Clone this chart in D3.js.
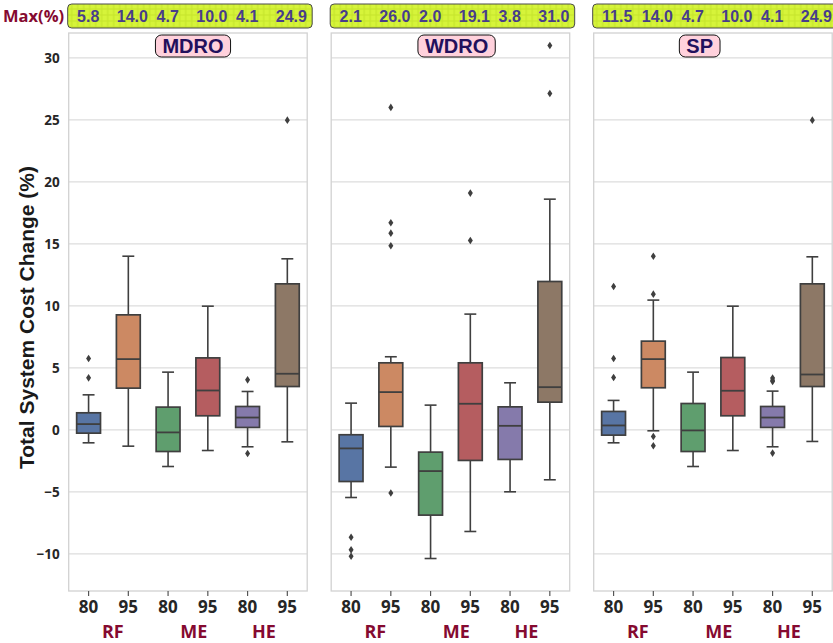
<!DOCTYPE html>
<html>
<head>
<meta charset="utf-8">
<script src="https://cdn.jsdelivr.net/npm/d3@7"></script>
<style>
  html, body { margin: 0; padding: 0; background: #fff; }
  svg { display: block; }
</style>
</head>
<body>
<svg id="chart" width="833" height="643"></svg>
<script>
// ---------------- DATA ----------------
const panels = ["MDRO", "WDRO", "SP"];
const groups = ["RF", "ME", "HE"];
const levels = ["80", "95", "80", "95", "80", "95"];
const categories = ["RF-80", "RF-95", "ME-80", "ME-95", "HE-80", "HE-95"];
const yTicks = [-10, -5, 0, 5, 10, 15, 20, 25, 30];

// Max (%) row per panel
const maxMDRO = [5.8, 14.0, 4.7, 10.0, 4.1, 24.9];
const maxWDRO = [2.1, 26.0, 2.0, 19.1, 3.8, 31.0];
const maxSP   = [11.5, 14.0, 4.7, 10.0, 4.1, 24.9];

// MDRO box statistics
const mdroWhiskerLow  = [-1.05, -1.32, -2.96, -1.67, -1.37, -0.97];
const mdroQ1          = [-0.27, 3.36, -1.75, 1.13, 0.19, 3.49];
const mdroMedian      = [0.46, 5.70, -0.21, 3.17, 0.99, 4.52];
const mdroQ3          = [1.37, 9.27, 1.83, 5.80, 1.88, 11.77];
const mdroWhiskerHigh = [2.82, 14.0, 4.65, 9.97, 3.09, 13.79];
const mdroOutliers    = [[5.75, 4.19], [], [], [], [4.03, -1.91], [24.97]];

// WDRO box statistics
const wdroWhiskerLow  = [-5.46, -3.01, -10.38, -8.20, -5.00, -4.03];
const wdroQ1          = [-4.17, 0.27, -6.88, -2.47, -2.39, 2.23];
const wdroMedian      = [-1.50, 3.04, -3.33, 2.10, 0.32, 3.44];
const wdroQ3          = [-0.40, 5.40, -1.80, 5.40, 1.85, 11.96];
const wdroWhiskerHigh = [2.15, 5.89, 1.99, 9.33, 3.79, 18.60];
const wdroOutliers    = [[-8.66, -9.68, -10.20], [26.0, 16.7, 15.86, 14.84, -5.10], [], [19.09, 15.27], [], [30.99, 27.12]];

// SP box statistics
const spWhiskerLow  = [-1.05, -0.08, -2.96, -1.67, -1.37, -0.94];
const spQ1          = [-0.43, 3.39, -1.75, 1.13, 0.19, 3.49];
const spMedian      = [0.35, 5.70, -0.05, 3.15, 0.99, 4.46];
const spQ3          = [1.48, 7.15, 2.12, 5.83, 1.88, 11.77];
const spWhiskerHigh = [2.37, 10.46, 4.65, 9.97, 3.12, 13.95];
const spOutliers    = [[11.56, 5.75, 4.22], [14.0, 10.94, -0.54, -1.29], [], [], [4.17, 4.0, 3.9, -1.88], [24.97]];

const boxColors = ["#5875a4", "#cc8963", "#5f9e6e", "#b55d60", "#857aab", "#8d7866"];

// ---------------- LAYOUT ----------------
const svg = d3.select("#chart");
const panelWidth = 238.5, panelGap = 24, firstLeft = 68.7;
const plotTop = 33, plotBottom = 591;
const titleOffsets = [124.3, 125.4, 106];
const groupLabelIdx = [0.61, 2.65, 4.41];

const panelData = [
  {name: "MDRO", max: maxMDRO, lo: mdroWhiskerLow, q1: mdroQ1, med: mdroMedian, q3: mdroQ3, hi: mdroWhiskerHigh, out: mdroOutliers},
  {name: "WDRO", max: maxWDRO, lo: wdroWhiskerLow, q1: wdroQ1, med: wdroMedian, q3: wdroQ3, hi: wdroWhiskerHigh, out: wdroOutliers},
  {name: "SP",   max: maxSP,   lo: spWhiskerLow,   q1: spQ1,   med: spMedian,   q3: spQ3,   hi: spWhiskerHigh,   out: spOutliers}
];

const y = d3.scaleLinear().domain([-13, 32]).range([plotBottom, plotTop]);
const x = d3.scaleBand().domain(categories).range([0, panelWidth]).paddingInner(0.4).paddingOuter(0.2);
const idxScale = d3.scaleLinear().domain([0, 5]).range([x(categories[0]) + x.bandwidth() / 2, x(categories[5]) + x.bandwidth() / 2]);

const edge = "#3f3f3f";

// hatch pattern for max row
const defs = svg.append("defs");
const pat = defs.append("pattern").attr("id", "hatch").attr("patternUnits", "userSpaceOnUse")
  .attr("width", 6).attr("height", 6);
pat.append("rect").attr("width", 6).attr("height", 6).attr("fill", "#d6f43a");
pat.append("path").attr("d", "M0,3H6M3,0V6").attr("stroke", "#c6e52c").attr("stroke-width", 1.2);

// Max(%) label
svg.append("text").attr("x", 3).attr("y", 22)
  .attr("font-family", "'Open Sans', sans-serif").attr("font-weight", 700).attr("font-size", 16.5)
  .attr("fill", "#850a30").text("Max(%)");

panelData.forEach((p, pi) => {
  const left = firstLeft + pi * (panelWidth + panelGap);
  const g = svg.append("g").attr("transform", `translate(${left},0)`);

  // Max row box
  g.append("rect").attr("x", -1).attr("y", 4).attr("width", panelWidth + 6).attr("height", 24)
    .attr("rx", 4).attr("fill", "url(#hatch)").attr("stroke", "#4a4a4a").attr("stroke-width", 1);
  g.selectAll("text.maxv").data(p.max).join("text").attr("class", "maxv")
    .attr("x", (d, i) => x(categories[i]) + x.bandwidth() / 2 - 11.5)
    .attr("y", 22)
    .attr("font-family", "'Liberation Sans', Arial, sans-serif").attr("font-weight", 700).attr("font-size", 16)
    .attr("fill", "#483d8b").text(d => d.toFixed(1));

  // grid
  g.selectAll("line.grid").data(yTicks).join("line").attr("class", "grid")
    .attr("x1", 0).attr("x2", panelWidth).attr("y1", d => y(d)).attr("y2", d => y(d))
    .attr("stroke", "#dddddd").attr("stroke-width", 1.3);

  // frame
  g.append("rect").attr("x", 0).attr("y", plotTop).attr("width", panelWidth).attr("height", plotBottom - plotTop)
    .attr("fill", "none").attr("stroke", "#d2d2d2").attr("stroke-width", 1.3);

  // x axis
  const xa = g.append("g").attr("transform", `translate(0,${plotBottom})`)
    .call(d3.axisBottom(x).tickSize(5).tickFormat((d, i) => levels[i]));
  xa.select(".domain").remove();
  xa.selectAll(".tick line").attr("stroke", "#555").attr("stroke-width", 1.2);
  xa.selectAll(".tick text").attr("y", 21.5).attr("dy", null)
    .attr("font-family", "'Open Sans', sans-serif").attr("font-weight", 700).attr("font-size", 17)
    .attr("fill", "#262626");

  // group labels
  g.selectAll("text.grp").data(groups).join("text").attr("class", "grp")
    .attr("x", (d, i) => idxScale(groupLabelIdx[i])).attr("y", 637.5)
    .attr("text-anchor", "middle")
    .attr("font-family", "'Open Sans', sans-serif").attr("font-weight", 700).attr("font-size", 18)
    .attr("fill", "#850a30").text(d => d);

  // y axis labels (first panel only)
  if (pi === 0) {
    const ya = g.append("g").call(d3.axisLeft(y).tickValues(yTicks).tickSize(0).tickPadding(9));
    ya.select(".domain").remove();
    ya.selectAll(".tick text")
      .attr("font-family", "'Open Sans', sans-serif").attr("font-weight", 700).attr("font-size", 13.5)
      .attr("fill", "#262626");
  }

  // boxes
  categories.forEach((c, i) => {
    const cx = x(c) + x.bandwidth() / 2;
    const bw = x.bandwidth();
    const bg = g.append("g");
    // whiskers
    bg.append("line").attr("x1", cx).attr("x2", cx).attr("y1", y(p.q3[i])).attr("y2", y(p.hi[i]))
      .attr("stroke", edge).attr("stroke-width", 1.6);
    bg.append("line").attr("x1", cx).attr("x2", cx).attr("y1", y(p.q1[i])).attr("y2", y(p.lo[i]))
      .attr("stroke", edge).attr("stroke-width", 1.6);
    // caps
    [p.hi[i], p.lo[i]].forEach(v => {
      bg.append("line").attr("x1", cx - bw / 4).attr("x2", cx + bw / 4).attr("y1", y(v)).attr("y2", y(v))
        .attr("stroke", edge).attr("stroke-width", 1.6);
    });
    // box
    bg.append("rect").attr("x", cx - bw / 2).attr("width", bw)
      .attr("y", y(p.q3[i])).attr("height", y(p.q1[i]) - y(p.q3[i]))
      .attr("fill", boxColors[i]).attr("stroke", edge).attr("stroke-width", 1.7);
    // median
    bg.append("line").attr("x1", cx - bw / 2).attr("x2", cx + bw / 2)
      .attr("y1", y(p.med[i])).attr("y2", y(p.med[i]))
      .attr("stroke", edge).attr("stroke-width", 1.8);
    // outliers (thin diamonds)
    bg.selectAll("path.out").data(p.out[i]).join("path").attr("class", "out")
      .attr("d", d => `M${cx},${y(d) - 3.8}L${cx + 2.5},${y(d)}L${cx},${y(d) + 3.8}L${cx - 2.5},${y(d)}Z`)
      .attr("fill", edge);
  });

  // title box
  const tg = g.append("g");
  const tx = titleOffsets[pi];
  const tt = tg.append("text").attr("x", tx).attr("y", 53).attr("text-anchor", "middle")
    .attr("font-family", "'Liberation Sans', Arial, sans-serif").attr("font-weight", 700).attr("font-size", 20)
    .attr("fill", "#22105c").text(p.name);
  const tw = tt.node().getComputedTextLength();
  tg.insert("rect", "text").attr("x", tx - tw / 2 - 7).attr("y", 35).attr("width", tw + 14).attr("height", 22)
    .attr("rx", 6).attr("fill", "#ffd1dc").attr("stroke", "#111").attr("stroke-width", 1);
});

// y axis title
svg.append("text")
  .attr("transform", "translate(34,317.5) rotate(-90)")
  .attr("text-anchor", "middle")
  .attr("font-family", "'Liberation Sans', Arial, sans-serif").attr("font-weight", 700).attr("font-size", 21)
  .attr("fill", "#1a1a1a").text("Total System Cost Change (%)");
</script>
</body>
</html>
